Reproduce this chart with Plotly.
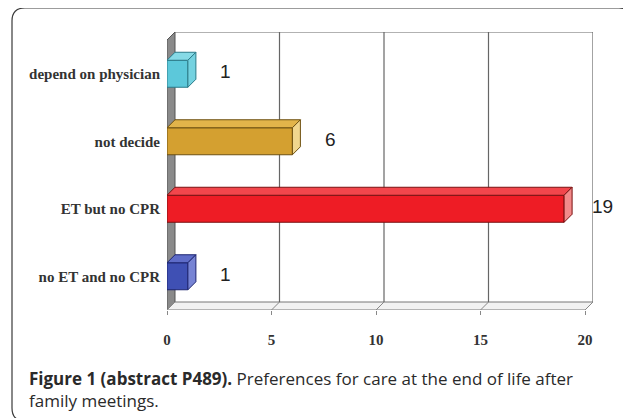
import plotly.graph_objects as go

# ---- data ----
categories = ["no ET and no CPR", "ET but no CPR", "not decide", "depend on physician"]
values = [1, 19, 6, 1]
front_colors = ["#3f50b4", "#ee1c25", "#d4a030", "#5cc8da"]
top_colors = ["#5e6cc8", "#f2464c", "#e2b44a", "#86dae6"]
side_colors = ["#7784d4", "#f28a8a", "#f0d68e", "#74d2e0"]
edge_colors = ["#1c2470", "#7a1010", "#6e5010", "#2a7a88"]
x_ticks = [0, 5, 10, 15, 20]
caption_bold = "Figure 1 (abstract P489)."
caption_rest = " Preferences for care at the end of life after"
caption_line2 = "family meetings."

# ---- geometry (page has an 8px body margin) ----
OFF = 8
W_IMG, H_IMG = 631 - OFF, 418 - OFF
L, T = 167 - OFF, 32 - OFF
PW, PH = 426, 278
DEPTH = 8
px_x = 418 / 20.0          # pixels per unit, front plane
px_y = 67.5                # pixels per category
dx = DEPTH / px_x
dy = DEPTH / px_y
bw = 0.4
ymin, ymax = -0.5, 3.5
xmax = 20

ypos = list(range(len(categories)))

fig = go.Figure()
fig.add_trace(go.Bar(
    x=values, y=ypos, orientation="h", width=bw,
    marker=dict(color=front_colors, line=dict(color=edge_colors, width=1)),
    hoverinfo="skip", showlegend=False,
))

shapes = []
# left wall
shapes.append(dict(type="path", xref="x", yref="y", layer="below",
                   path=f"M0,{ymin} L0,{ymax} L{dx},{ymax+dy} L{dx},{ymin+dy} Z",
                   fillcolor="#8a8a8a", line=dict(color="#555555", width=1)))
# floor
shapes.append(dict(type="path", xref="x", yref="y", layer="below",
                   path=f"M0,{ymin} L{xmax},{ymin} L{xmax+dx},{ymin+dy} L{dx},{ymin+dy} Z",
                   fillcolor="#f2f2f2", line=dict(color="#777777", width=1)))
# back wall frame: top line
shapes.append(dict(type="line", xref="x", yref="y", layer="below",
                   x0=dx, x1=xmax + dx, y0=ymax + dy, y1=ymax + dy,
                   line=dict(color="#666666", width=1)))
# gridlines on back wall + floor diagonals
for v in x_ticks[1:]:
    shapes.append(dict(type="line", xref="x", yref="y", layer="below",
                       x0=v + dx, x1=v + dx, y0=ymin + dy, y1=ymax + dy,
                       line=dict(color="#666666", width=1.2)))
for v in x_ticks:
    shapes.append(dict(type="line", xref="x", yref="y", layer="below",
                       x0=v + dx, x1=v, y0=ymin + dy, y1=ymin,
                       line=dict(color="#888888", width=1)))
# category boundary ticks on the wall
for b in [ymin + i for i in range(len(categories) + 1)]:
    shapes.append(dict(type="line", xref="x", yref="y", xsizemode="pixel", xanchor=0,
                       x0=-4, x1=0, y0=b, y1=b, line=dict(color="#555555", width=1)))
# 3D faces of bars
for i, v in enumerate(values):
    c = ypos[i]
    y0, y1 = c - bw / 2, c + bw / 2
    shapes.append(dict(type="path", xref="x", yref="y",
                       path=f"M0,{y1} L{v},{y1} L{v+dx},{y1+dy} L{dx},{y1+dy} Z",
                       fillcolor=top_colors[i], line=dict(color=edge_colors[i], width=1)))
    shapes.append(dict(type="path", xref="x", yref="y",
                       path=f"M{v},{y0} L{v},{y1} L{v+dx},{y1+dy} L{v+dx},{y0+dy} Z",
                       fillcolor=side_colors[i], line=dict(color=edge_colors[i], width=1)))

# outer rounded border (screen pixel positions -> paper units)
def px2paper(x, y):
    return (x - OFF - L) / PW, 1 - (y - OFF - T) / PH

def P(x, y):
    a, b = px2paper(x, y)
    return f"{a:.5f},{b:.5f}"

bx0, by0, bx1, by1, r = 12, 8, 632, 421, 13
border_path = (f"M{P(bx0+r, by0)} L{P(bx1-r, by0)} Q{P(bx1, by0)} {P(bx1, by0+r)} "
               f"L{P(bx1, by1-r)} Q{P(bx1, by1)} {P(bx1-r, by1)} "
               f"L{P(bx0+r, by1)} Q{P(bx0, by1)} {P(bx0, by1-r)} "
               f"L{P(bx0, by0+r)} Q{P(bx0, by0)} {P(bx0+r, by0)} Z")
shapes.append(dict(type="path", xref="paper", yref="paper", path=border_path,
                   line=dict(color="#3a3a3a", width=1.2), fillcolor="rgba(0,0,0,0)"))

annotations = []
for i, v in enumerate(values):
    annotations.append(dict(x=v, y=ypos[i], xref="x", yref="y", text=str(v),
                            showarrow=False, xanchor="center", xshift=38, yshift=2,
                            font=dict(family="Liberation Sans, Arial", size=19, color="#222222")))

cx, cy = px2paper(27, 378)
annotations.append(dict(x=cx, y=cy, xref="paper", yref="paper", xanchor="left", yanchor="middle",
                        showarrow=False, align="left",
                        text=f"<b>{caption_bold}</b>{caption_rest}",
                        font=dict(family="Open Sans", size=17, color="#2a2a2a")))
cx2, cy2 = px2paper(27, 400)
annotations.append(dict(x=cx2, y=cy2, xref="paper", yref="paper", xanchor="left", yanchor="middle",
                        showarrow=False, align="left", text=caption_line2,
                        font=dict(family="Open Sans", size=17, color="#2a2a2a")))

fig.update_layout(
    width=W_IMG, height=H_IMG,
    margin=dict(l=L, r=W_IMG - L - PW, t=T, b=H_IMG - T - PH, pad=0),
    paper_bgcolor="white", plot_bgcolor="white",
    shapes=shapes, annotations=annotations,
    xaxis=dict(range=[0, xmax + dx], tickvals=x_ticks, ticktext=[f"<b>{t}</b>" for t in x_ticks],
               showgrid=False, zeroline=False, showline=False,
               ticks="outside", ticklen=4, tickcolor="#888888",
               ticklabelstandoff=12,
               tickfont=dict(family="Liberation Serif, Times New Roman", size=15, color="#333333")),
    yaxis=dict(range=[ymin, ymax + dy], tickvals=ypos, ticktext=[f"<b>{c}</b>" for c in categories],
               showgrid=False, zeroline=False, showline=False, ticks="",
               ticklabelstandoff=6,
               tickfont=dict(family="Liberation Serif, Times New Roman", size=15, color="#333333")),
    bargap=0.6,
)

fig.write_html("out.html")
